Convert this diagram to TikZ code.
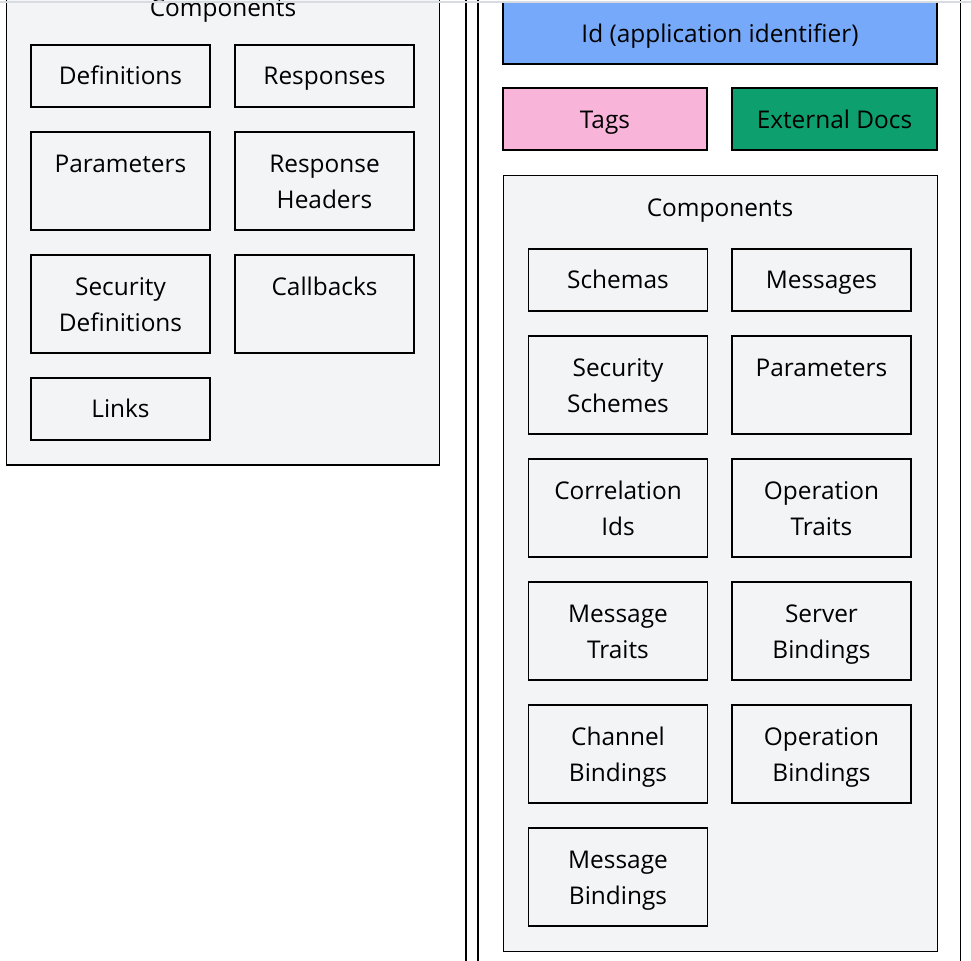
\documentclass[tikz,border=0pt]{standalone}
\usepackage{fontspec}
\setmainfont{Open Sans}
\definecolor{ccpanel}{HTML}{F3F4F6}
\definecolor{ccid}{HTML}{76A9FA}
\definecolor{cctags}{HTML}{F8B4D9}
\definecolor{ccdocs}{HTML}{0E9F6E}
\definecolor{ccrule}{HTML}{D9DBE3}

\begin{document}
\begin{tikzpicture}[x=0.5pt, y=-0.5pt,
    every node/.style={font=\fontsize{12.2}{18}\selectfont, align=center, inner sep=0pt},
    panel/.style={rectangle, draw=black, fill=ccpanel, line width=0.6pt, minimum width=216.5pt},
    boxtext/.style={execute at begin node={\vrule width 0pt height #1\strut}, execute at end node=\strut},
    item/.style={rectangle, draw=black, fill=ccpanel, line width=0.6pt, minimum width=89.5pt, minimum height=31pt, boxtext=14.4pt},
    tall/.style={item, minimum height=49pt, boxtext=33.2pt},
    band/.style={rectangle, draw=black, line width=0.6pt, minimum height=31pt, boxtext=15.4pt}]
    \clip (0,0) rectangle (971,961);

    % left: components of the first spec
    \node[panel, minimum height=245.5pt] (lcomp) at (223,219.5) {};
    \node[anchor=base] (ltitle) at (223,17) {Components};
    \node[item] (ldef) at (120.5,76) {Definitions};
    \node[item] (lresp) at (324.5,76) {Responses};
    \node[tall] (lpar) at (120.5,181) {Parameters\\\mbox{}};
    \node[tall] (lhead) at (324.5,181) {Response\\Headers};
    \node[tall] (lsec) at (120.5,304) {Security\\Definitions};
    \node[tall] (lcall) at (324.5,304) {Callbacks\\\mbox{}};
    \node[item] (llinks) at (120.5,409) {Links};

    % right: id, tags, docs and components
    \node[band, fill=ccid, minimum width=217pt] (rid) at (720,33) {Id (application identifier)};
    \node[band, fill=cctags, minimum width=102pt] (rtags) at (605,119) {Tags};
    \node[band, fill=ccdocs, minimum width=102.5pt] (rdocs) at (834.5,119) {External Docs};
    \node[panel, minimum width=217pt, minimum height=388pt] (rcomp) at (720.5,563.5) {};
    \node[anchor=base] (rtitle) at (720,217) {Components};
    \node[item] (rschema) at (618,280) {Schemas};
    \node[item] (rmsg) at (821.5,280) {Messages};
    \node[tall] (rsec) at (618,385) {Security\\Schemes};
    \node[tall] (rpar) at (821.5,385) {Parameters\\\mbox{}};
    \node[tall] (rcorr) at (618,508) {Correlation\\Ids};
    \node[tall] (roptr) at (821.5,508) {Operation\\Traits};
    \node[tall] (rmsgtr) at (618,631) {Message\\Traits};
    \node[tall] (rsrvb) at (821.5,631) {Server\\Bindings};
    \node[tall] (rchanb) at (618,754) {Channel\\Bindings};
    \node[tall] (ropb) at (821.5,754) {Operation\\Bindings};
    \node[tall] (rmsgb) at (618,877) {Message\\Bindings};

    % frame lines
    \draw[line width=0.6pt] (466,0) -- (466,961);
    \draw[line width=0.6pt] (478,0) -- (478,961);
    \draw[line width=0.6pt] (960.5,0) -- (960.5,961);
    \draw[ccrule, line width=0.7pt] (0,2) -- (971,2);
\end{tikzpicture}
\end{document}
